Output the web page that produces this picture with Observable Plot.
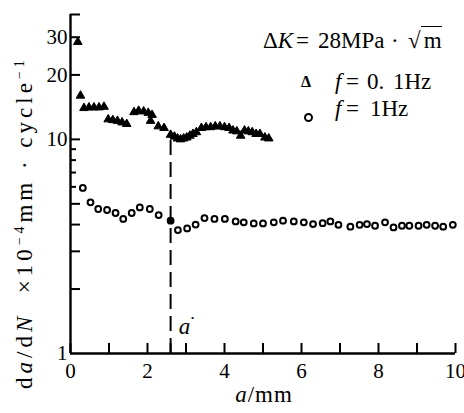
<!DOCTYPE html>
<html><head><meta charset="utf-8">
<script src="https://cdn.jsdelivr.net/npm/d3@7"></script>
<script src="https://cdn.jsdelivr.net/npm/@observablehq/plot@0.6"></script>
<style>
body{margin:0;background:#fff;}
#wrap{position:relative;width:464px;height:413px;font-family:"Liberation Serif",serif;color:#000;}
#wrap svg, #wrap svg text{font-family:"Liberation Serif",serif !important;}
.t{position:absolute;white-space:nowrap;line-height:1;}
sup{font-size:0.6em;vertical-align:0.55em;}
</style></head><body>
<div id="wrap"></div>
<script>
// f = 0.1 Hz (triangles)
const triA = [0.19,0.26,0.35,0.48,0.61,0.74,0.87,0.98,1.10,1.22,1.34,1.46,1.65,1.77,1.90,2.02,2.12,2.08,2.28,2.43,2.60,2.70,2.78,2.86,2.94,3.02,3.10,3.18,3.27,3.40,3.52,3.64,3.76,3.88,4.00,4.12,4.22,4.32,4.42,4.52,4.62,4.72,4.82,4.92,5.05,5.15];
const triV = [28.5,16.0,14.0,14.1,14.1,14.1,14.2,12.4,12.3,12.2,12.0,11.8,13.4,13.6,13.5,13.3,13.0,12.2,11.5,11.3,10.5,10.3,10.1,10.0,10.1,10.2,10.4,10.6,10.8,11.3,11.4,11.4,11.5,11.5,11.4,11.3,11.0,10.9,10.4,11.0,10.9,10.8,10.6,10.6,10.2,10.1];
// f = 1 Hz (circles)
const cirA = [0.32,0.52,0.72,0.95,1.17,1.37,1.59,1.80,2.06,2.29,2.79,3.03,3.25,3.48,3.74,4.01,4.29,4.50,4.76,5.00,5.28,5.52,5.80,6.06,6.30,6.55,6.75,6.96,7.27,7.51,7.70,7.91,8.17,8.39,8.61,8.80,9.04,9.25,9.47,9.68,9.93];
const cirV = [5.93,5.08,4.73,4.68,4.53,4.25,4.53,4.81,4.73,4.43,3.77,3.84,4.00,4.29,4.25,4.25,4.14,4.10,4.05,4.05,4.10,4.17,4.14,4.10,4.02,4.06,4.14,3.99,3.91,3.99,4.02,3.95,4.10,3.88,3.95,3.95,3.95,3.99,3.95,3.91,3.99];
// critical crack length a*
const critA = [2.6];
const critV = [4.17];
const critTop = [10.5];
// ticks
const xTickLabels = [0,2,4,6,8,10];
const xTicks = [0,1,2,2.6,3,4,5,6,7,8,9,10];
const yTickLabels = [1,10,20,30];
const yTicksLong = [2,3,4,5,10,20,30,38.3];
const yTicksShort = [6,7,8,9];

const W = 464, H = 413, mL = 70, mR = 9, mT = 14, mB = 60;
const pw = W - mL - mR, ph = H - mT - mB;
const FF = "Liberation Serif, serif";

const tri = triA.map((a,i)=>({a, v: triV[i]}));
const cir = cirA.map((a,i)=>({a, v: cirV[i]}));
const crit = critA.map((a,i)=>({a, v: critV[i], top: critTop[i]}));

const chart = Plot.plot({
  width: W, height: H, marginLeft: mL, marginRight: mR, marginTop: mT, marginBottom: mB,
  style: {fontFamily: FF, fontSize: "20px", color: "#000", background: "#fff"},
  x: {domain: [0, 10]},
  y: {type: "log", domain: [1, 38.3]},
  marks: [
    Plot.axisX({ticks: xTickLabels, tickSize: 0, tickPadding: 10, tickFormat: d => String(d), label: null, fontSize: 21, fontFamily: FF}),
    Plot.axisY({ticks: yTickLabels, tickSize: 0, tickPadding: 3, tickFormat: d => String(d), label: null, fontSize: 21, fontFamily: FF}),
    Plot.tickY(yTicksLong, {y: d => d, insetRight: pw - 10, strokeWidth: 2}),
    Plot.tickY(yTicksShort, {y: d => d, insetRight: pw - 6, strokeWidth: 2}),
    Plot.tickX(xTicks, {x: d => d, insetTop: ph - 10, strokeWidth: 2}),
    Plot.ruleX([0], {strokeWidth: 2.4}),
    Plot.ruleY([1], {strokeWidth: 2.4}),
    Plot.ruleX(crit, {x: "a", y1: 1, y2: "top", strokeWidth: 2, strokeDasharray: "15,7"}),
    Plot.dot(tri, {x: "a", y: "v", symbol: "triangle", r: 3.2, fill: "#000", stroke: "#000", strokeWidth: 1}),
    Plot.dot(cir, {x: "a", y: "v", r: 2.9, fill: "#fff", stroke: "#000", strokeWidth: 2}),
    Plot.dot(crit, {x: "a", y: "v", r: 3.9, fill: "#000"}),
    Plot.text(crit, {x: "a", frameAnchor: "bottom", dx: 14, dy: -20, text: () => "a", fontStyle: "italic", fontSize: 23, fontFamily: FF}),
    Plot.text(crit, {x: "a", frameAnchor: "bottom", dx: 22, dy: -33, text: () => "•", fontSize: 9, fontFamily: FF})
  ]
});
const wrap = document.getElementById("wrap");
wrap.appendChild(chart);

function add(html, style){
  const d = document.createElement("div");
  d.className = "t"; d.innerHTML = html; d.setAttribute("style", style);
  wrap.appendChild(d);
}
// y label (rotated, starting at its bottom end)
add('d<i>a</i>/d<i>N</i>&nbsp;&nbsp;×10<sup>−4</sup>mm · cycle<sup>−1</sup>',
    'left:13px;top:389px;font-size:23px;letter-spacing:4px;transform-origin:0 0;transform:rotate(-90deg);');
// x label
add('<i>a</i>/mm', 'left:264px;top:383px;font-size:23px;letter-spacing:1px;transform:translateX(-50%);');
// legend line 1
add('Δ<i>K</i>', 'left:263px;top:29px;font-size:23px;');
add('=', 'left:296px;top:29px;font-size:23px;');
add('28MPa', 'left:318px;top:29px;font-size:23px;');
add('·', 'left:391px;top:29px;font-size:23px;');
add('√<span style="border-top:1.5px solid #000;padding-top:1px;padding-left:3px">m</span>', 'left:408px;top:29px;font-size:23px;');
// legend line 2
add('<b>Δ</b>', 'left:301px;top:74px;font-size:16px;');
add('<i>f</i>', 'left:335px;top:70px;font-size:23px;');
add('=', 'left:346px;top:70px;font-size:23px;');
add('0.', 'left:367px;top:70px;font-size:23px;');
add('1Hz', 'left:393px;top:70px;font-size:23px;');
// legend line 3
add('<span style="display:inline-block;width:5px;height:5px;border:2px solid #000;border-radius:50%"></span>', 'left:304px;top:109px;');
add('<i>f</i>', 'left:335px;top:97px;font-size:23px;');
add('=', 'left:346px;top:97px;font-size:23px;');
add('1Hz', 'left:370px;top:97px;font-size:23px;');
</script>
</body></html>
